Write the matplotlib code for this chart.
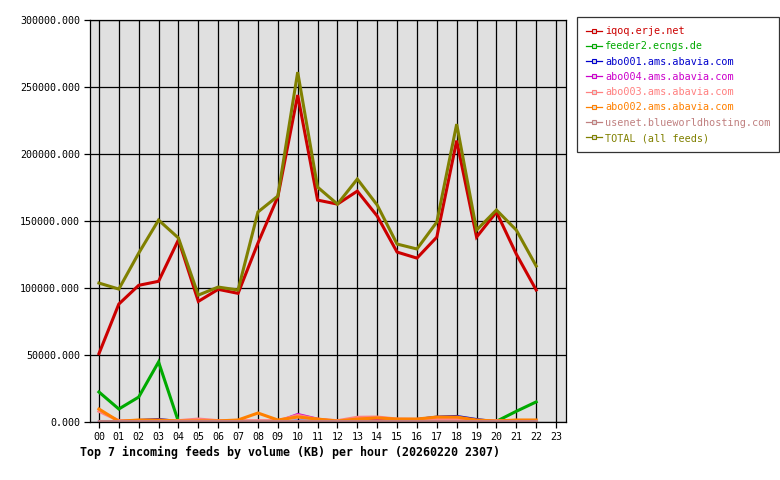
import numpy as np
from matplotlib import pyplot as plt

#data (KB per hour)
hours = ['%02d' % h for h in range(24)]

feeds = ['iqoq.erje.net', 'feeder2.ecngs.de', 'abo001.ams.abavia.com',
         'abo004.ams.abavia.com', 'abo003.ams.abavia.com', 'abo002.ams.abavia.com',
         'usenet.blueworldhosting.com', 'TOTAL (all feeds)']
colors = ['#cc0000', '#00aa00', '#0000cc', '#cc00cc', '#ff8080', '#ff8000', '#c08080', '#808000']

iqoq = [51000, 88000, 102000, 105000, 136000, 90000, 99000, 96000, 133500, 168000, 244000,
        165600, 162600, 172300, 153700, 126800, 122300, 138000, 210000, 138000, 156700, 125300, 98500]
feeder2 = [22400, 9700, 18600, 44800, 300, 0, 0, 0, 0, 0, 0,
           200, 0, 0, 0, 0, 0, 200, 0, 0, 500, 8000, 15000]
abo001 = [500, 500, 1500, 2200, 800, 500, 500, 500, 500, 500, 1000,
          800, 500, 800, 1500, 2200, 2200, 4000, 4500, 2200, 500, 500, 500]
abo004 = [500, 500, 500, 500, 500, 500, 500, 500, 500, 500, 6000,
          2500, 500, 800, 1500, 2200, 1500, 1500, 1500, 800, 500, 500, 500]
abo003 = [8000, 1000, 1000, 1000, 1000, 2200, 1000, 1000, 1000, 1000, 5000,
          2000, 1000, 3500, 3700, 2200, 2000, 2500, 2500, 1000, 1000, 1000, 1000]
abo002 = [9700, 500, 1500, 1500, 700, 800, 800, 1500, 6700, 1500, 3700,
          2200, 700, 2200, 3000, 2200, 2200, 3700, 3700, 1500, 700, 1500, 1500]
usenet = [800, 800, 800, 800, 800, 800, 800, 800, 800, 800, 800,
          800, 800, 800, 800, 800, 800, 800, 800, 800, 800, 800, 800]
total = [103700, 99200, 126000, 150700, 137300, 94700, 100700, 98500, 156700, 168600, 261100,
         175300, 162600, 181300, 161900, 132800, 129100, 149200, 222300, 143200, 158200, 143200, 116400]

series = [iqoq, feeder2, abo001, abo004, abo003, abo002, usenet, total]
widths = [2.2, 2.2, 1.5, 1.5, 2.2, 2.2, 2.2, 2.2]

#plotting
plt.rcParams['font.family'] = 'DejaVu Sans Mono'
fig = plt.figure(figsize=(7.8, 4.8), dpi=100)
ax = fig.add_axes([90/780, 58/480, 476/780, 402/480])
ax.set_facecolor('#e0e0e0')

x = np.arange(len(iqoq))
for vals, c, w, name in zip(series, colors, widths, feeds):
    ax.plot(x, vals, color=c, lw=w, solid_joinstyle='miter', label=name)

ax.set_xlim(-0.45, 23.5)
ax.set_ylim(0, 300000)
ax.set_xticks(range(24))
ax.set_xticklabels(hours, fontsize=7.2)
yt = np.arange(0, 300001, 50000)
ax.set_yticks(yt)
ax.set_yticklabels(['%.3f' % v for v in yt], fontsize=7.2)
ax.grid(True, color='black', lw=0.9)
ax.set_axisbelow(True)
for s in ax.spines.values():
    s.set_linewidth(0.9)
ax.tick_params(length=4, width=0.9, pad=3)

leg_handles = [plt.Line2D([0], [0], color=c, lw=0.9, marker='s', markersize=2.5,
                          markerfacecolor='#e0e0e0', markeredgecolor=c, markeredgewidth=0.8)
               for c in colors]
leg = fig.legend(leg_handles, feeds, loc='upper left', bbox_to_anchor=(577/780, 1 - 17/480),
                 fontsize=7.3, frameon=True, fancybox=False, edgecolor='black',
                 handlelength=1.6, handletextpad=0.25, labelspacing=0.52, borderpad=0.9,
                 borderaxespad=0)
leg.get_frame().set_linewidth(0.9)
for t, c in zip(leg.get_texts(), colors):
    t.set_color(c)

fig.text(80/780, 1 - 452/480, 'Top 7 incoming feeds by volume (KB) per hour (20260220 2307)',
         fontsize=8.4, fontweight='bold', va='center', ha='left')

fig.savefig('out.png', dpi=100)
